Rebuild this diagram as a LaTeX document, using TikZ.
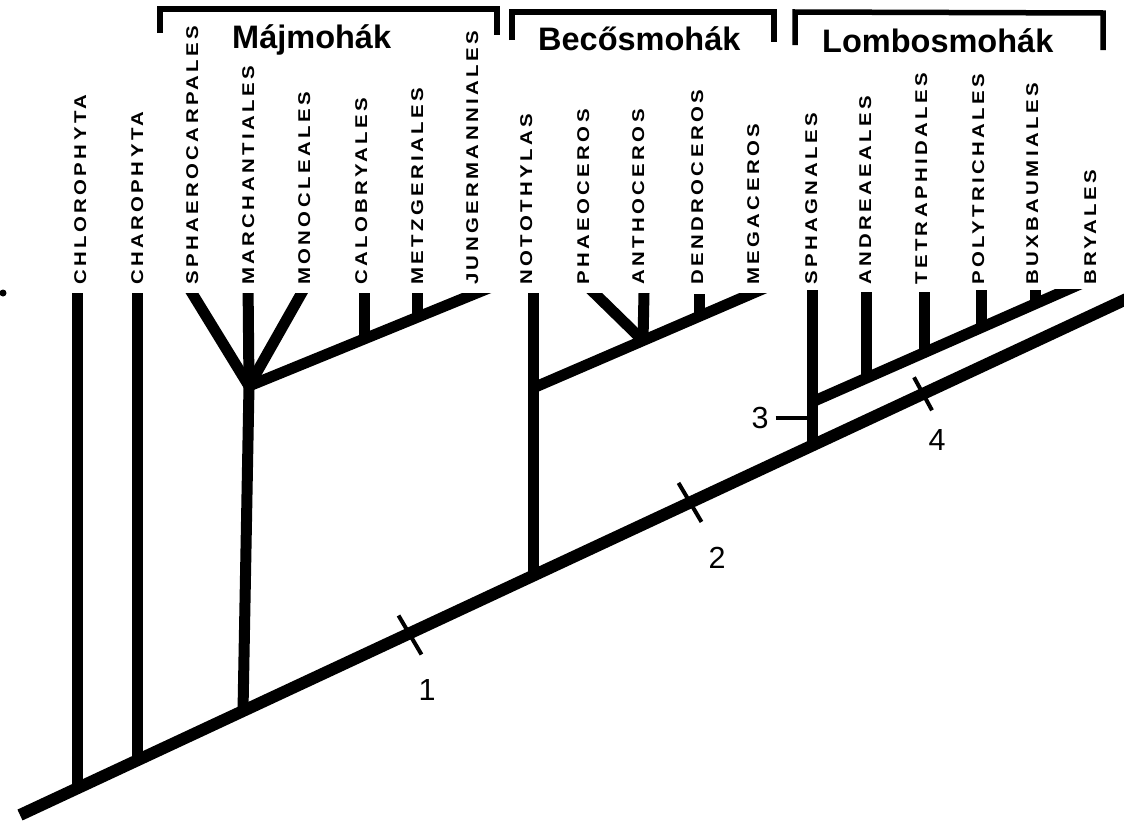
\documentclass[tikz,border=0pt]{standalone}
\usepackage{fontspec}
\setmainfont{Liberation Sans}
\newfontfamily\labfont[FakeStretch=1.2,LetterSpace=20]{Liberation Sans Bold}
\usetikzlibrary{calc}
\begin{document}
\begin{tikzpicture}[x=1pt,y=-1pt,
  taxon/.style={rotate=90,anchor=base west,inner sep=0pt,font=\labfont\fontsize{17}{17}\selectfont},
  grp/.style={anchor=base west,inner sep=0pt,font=\bfseries\fontsize{32.5}{32.5}\selectfont},
  num/.style={inner sep=0pt,font=\fontsize{30.5}{30.5}\selectfont},
  trunk/.style={line width=12pt},
  stem/.style={line width=11pt},
  tickmark/.style={line width=4pt},
  ptr/.style={line width=3.5pt},
  brk/.style={line width=5.5pt,line join=miter}]
\useasboundingbox (0,0) rectangle (1124,827);

% ---- coordinates on the trunk
\coordinate (base) at (20,815);
\coordinate (apex) at (1135,295);
\coordinate (r1) at (77,788.4);
\coordinate (r2) at (137,760.4);
\coordinate (r3) at (243,711);
\coordinate (r4) at (533,575.7);
\coordinate (r5) at (812,445.5);
\coordinate (k1) at (410,635);
\coordinate (k2) at (690,502.4);
\coordinate (k4) at (923,393.8);

% ---- Marchantiophyta
\coordinate (j1) at (249,386);
\coordinate (tSph) at (184,280);
\coordinate (tMar) at (248,280);
\coordinate (tMon) at (309,280);
\coordinate (tJun) at (500,283.5);
\coordinate (bCal) at (364,339);
\coordinate (tCal) at (364,293);
\coordinate (bMet) at (417,317.4);
\coordinate (tMet) at (417,293);

% ---- Anthocerotophyta
\coordinate (tNot) at (533,293);
\coordinate (j2a) at (533,388);
\coordinate (tMeg) at (780,281.5);
\coordinate (j2) at (643,340.6);
\coordinate (tPha) at (583,282);
\coordinate (tAnt) at (644,293);
\coordinate (bDen) at (699,316.5);
\coordinate (tDen) at (699,294);

% ---- Bryophyta
\coordinate (tSpg) at (812,290);
\coordinate (j3) at (812,402);
\coordinate (tBry) at (1110,270.9);
\coordinate (bAnd) at (866,378.2);
\coordinate (tAnd) at (866,292);
\coordinate (bTet) at (924,352.7);
\coordinate (tTet) at (924,292);
\coordinate (bPol) at (981,327.6);
\coordinate (tPol) at (981,290);
\coordinate (bBux) at (1035,303.9);
\coordinate (tBux) at (1035,290);

% ---- tree
\draw[trunk] (base) -- (apex);
\begin{scope}
  \clip (0,293) -- (790,293) -- (790,289) -- (1124,289) -- (1124,827) -- (0,827) -- cycle;
  \draw[stem] (r1) -- (77,293);
  \draw[stem] (r2) -- (137,293);
  \draw[stem] (r3) -- (j1);
  \draw[stem] (j1) -- (tSph);
  \draw[stem] (j1) -- (tMar);
  \draw[stem] (j1) -- (tMon);
  \draw[stem] (j1) -- (tJun);
  \draw[stem] (bCal) -- (tCal);
  \draw[stem] (bMet) -- (tMet);
  \draw[stem] (r4) -- (tNot);
  \draw[stem] (j2a) -- (tMeg);
  \draw[stem] (j2) -- (tPha);
  \draw[stem] (j2) -- (tAnt);
  \draw[stem] (bDen) -- (tDen);
  \draw[stem] (r5) -- (tSpg);
  \draw[stem] (j3) -- (tBry);
  \draw[stem] (bAnd) -- (tAnd);
  \draw[stem] (bTet) -- (tTet);
  \draw[stem] (bPol) -- (tPol);
  \draw[stem] (bBux) -- (tBux);
\end{scope}

% ---- tick marks
\draw[tickmark] ($(k1)+(-11.5,-19.5)$) -- ($(k1)+(11.5,19.5)$);
\draw[tickmark] ($(k2)+(-11.5,-19.5)$) -- ($(k2)+(11.5,19.5)$);
\draw[tickmark] ($(k4)+(-9,-16.5)$) -- ($(k4)+(9,16.5)$);

\node[num] (n1) at (427,690) {1};
\node[num] (n2) at (717,558) {2};
\node[num] (n3) at (760,418) {3};
\node[num] (n4) at (937,440) {4};
\coordinate (p3) at (808,418);
\draw[ptr,shorten <=7pt] (n3.east) -- (p3);

% ---- taxon labels
\node[taxon] (l1) at (86,285) {CHLOROPHYTA};
\node[taxon] (l2) at (143,285) {CHAROPHYTA};
\node[taxon] (l3) at (198,285) {SPHAEROCARPALES};
\node[taxon] (l4) at (254,285) {MARCHANTIALES};
\node[taxon] (l5) at (310,285) {MONOCLEALES};
\node[taxon] (l6) at (367,285) {CALOBRYALES};
\node[taxon] (l7) at (423,285) {METZGERIALES};
\node[taxon] (l8) at (478,285) {JUNGERMANNIALES};
\node[taxon] (l9) at (532,285) {NOTOTHYLAS};
\node[taxon] (l10) at (589,285) {PHAEOCEROS};
\node[taxon] (l11) at (644,285) {ANTHOCEROS};
\node[taxon] (l12) at (703,285) {DENDROCEROS};
\node[taxon] (l13) at (759,285) {MEGACEROS};
\node[taxon] (l14) at (817,285) {SPHAGNALES};
\node[taxon] (l15) at (871,285) {ANDREAEALES};
\node[taxon] (l16) at (927,285) {TETRAPHIDALES};
\node[taxon] (l17) at (984,285) {POLYTRICHALES};
\node[taxon] (l18) at (1038,285) {BUXBAUMIALES};
\node[taxon] (l19) at (1096,285) {BRYALES};

% ---- group brackets and titles
\draw[brk] (160,33) -- (160,9) -- (497,9) -- (497,35);
\draw[brk] (512,40) -- (512,12) -- (774,12) -- (774,42);
\draw[brk] (795,45) -- (795,12) -- (1103,13) -- (1103,50);
\node[grp] (g1) at (232,48) {Májmohák};
\node[grp] (g2) at (538,50) {Becősmohák};
\node[grp] (g3) at (822,52) {Lombosmohák};

\fill (3,293) circle (3.5pt);
\end{tikzpicture}
\end{document}
